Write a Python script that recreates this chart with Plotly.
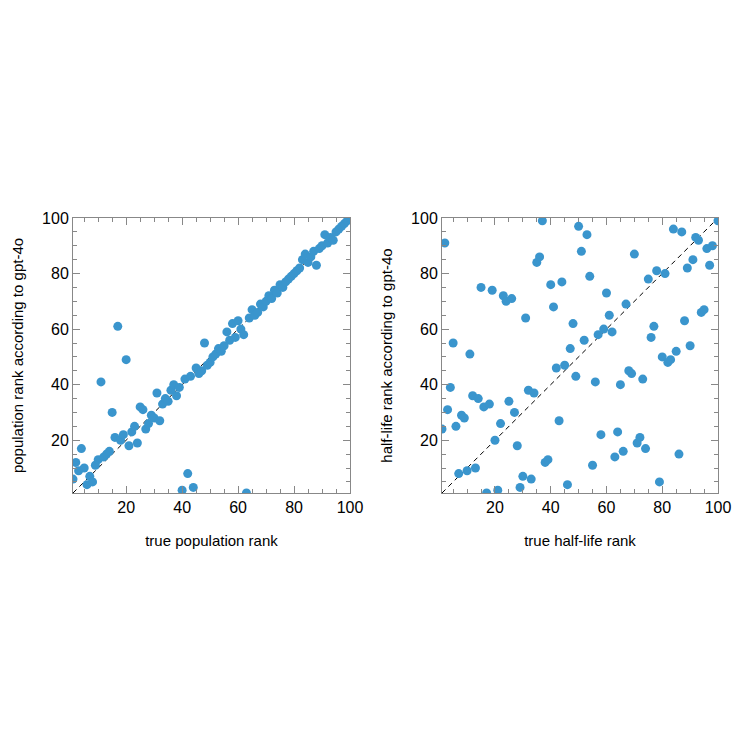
import plotly.graph_objects as go

# Left panel: population rank
pop_true = list(range(1, 101))
pop_gpt = [6, 12, 9, 17, 10, 4, 7, 5, 11, 13,
           41, 14, 15, 16, 30, 21, 61, 20, 22, 49,
           18, 23, 25, 19, 32, 31, 24, 26, 29, 28,
           37, 27, 33, 35, 34, 38, 40, 36, 39, 2,
           42, 8, 43, 3, 46, 44, 45, 55, 47, 48,
           50, 51, 53, 52, 54, 59, 56, 62, 57, 63,
           60, 58, 1, 64, 67, 65, 66, 69, 68, 70,
           72, 71, 74, 73, 76, 75, 77, 78, 79, 80,
           81, 82, 85, 87, 84, 86, 88, 83, 89, 90,
           94, 91, 93, 92, 95, 96, 97, 98, 99, 100]

# Right panel: half-life rank
hl_true = [2, 5, 11, 15, 19, 23, 24, 26, 31, 35,
           36, 37, 40, 41, 44, 48, 47, 50, 51, 53,
           54, 60, 70, 67, 61, 52, 57, 59, 62, 75,
           78, 81, 77, 76, 84, 87, 92, 93, 89, 91,
           96, 98, 100, 97, 94, 95, 88, 80, 85, 90,
           1, 3, 4, 6, 8, 9, 7, 10, 13, 12,
           14, 16, 18, 17, 21, 20, 22, 25, 27, 28,
           29, 30, 33, 32, 34, 38, 39, 43, 42, 45,
           49, 46, 56, 65, 68, 69, 73, 82, 83, 58,
           55, 64, 63, 66, 72, 71, 74, 86, 79]
hl_gpt = [91, 55, 51, 75, 74, 72, 70, 71, 64, 84,
          86, 99, 76, 68, 77, 62, 53, 97, 88, 94,
          79, 73, 87, 69, 65, 56, 58, 60, 59, 78,
          81, 80, 61, 57, 96, 95, 93, 92, 82, 85,
          89, 90, 99, 83, 66, 67, 63, 50, 52, 54,
          24, 31, 39, 25, 29, 28, 8, 9, 10, 36,
          35, 32, 33, 1, 2, 20, 26, 34, 30, 18,
          3, 7, 6, 38, 37, 12, 13, 27, 46, 47,
          43, 4, 41, 40, 45, 44, 42, 48, 49, 22,
          11, 23, 14, 16, 21, 19, 17, 15, 5]

diag = [1, 100]
tickvals = [20, 40, 60, 80, 100]

BLUE = "#3a95cd"
FONT = "Liberation Sans, Arial, sans-serif"

fig = go.Figure()
fig.add_trace(go.Scatter(x=diag, y=diag, mode="lines", xaxis="x", yaxis="y",
                         line=dict(color="black", width=1, dash="5px,4px"), showlegend=False))
fig.add_trace(go.Scatter(x=pop_true, y=pop_gpt, mode="markers", xaxis="x", yaxis="y",
                         marker=dict(color=BLUE, size=9), showlegend=False))
fig.add_trace(go.Scatter(x=diag, y=diag, mode="lines", xaxis="x2", yaxis="y2",
                         line=dict(color="black", width=1, dash="5px,4px"), showlegend=False))
fig.add_trace(go.Scatter(x=hl_true, y=hl_gpt, mode="markers", xaxis="x2", yaxis="y2",
                         marker=dict(color=BLUE, size=9), showlegend=False))


def ax(domain, title, anchor, standoff):
    return dict(domain=domain, anchor=anchor, range=[1, 100], tickvals=tickvals,
                automargin=False,
                ticks="inside", ticklen=7, tickcolor="#888888", tickwidth=1,
                showline=True, linecolor="#888888", linewidth=1, mirror="allticks",
                showgrid=False, zeroline=False,
                minor=dict(tickvals=[v for v in range(5, 100, 5) if v % 20 != 0],
                           ticks="inside", ticklen=4, tickcolor="#888888", tickwidth=1),
                tickfont=dict(family=FONT, size=16, color="black"),
                title=dict(text=title, font=dict(family=FONT, size=15, color="black"),
                           standoff=standoff))


OFF = 7  # page body offset
yb, yt = 1 - (492 - OFF) / 750, 1 - (217 - OFF) / 750
fig.update_layout(
    width=750, height=750,
    margin=dict(l=0, r=0, t=0, b=0),
    plot_bgcolor="white", paper_bgcolor="white",
    xaxis=ax([(72 - OFF) / 750, (349 - OFF) / 750], "true population rank", "y", 20),
    yaxis=ax([yb, yt], "population rank according to gpt-4o", "x", 14),
    xaxis2=ax([(441 - OFF) / 750, (717 - OFF) / 750], "true half-life rank", "y2", 20),
    yaxis2=ax([yb, yt], "half-life rank according to gpt-4o", "x2", 14),
)

fig.write_html("out.html")
